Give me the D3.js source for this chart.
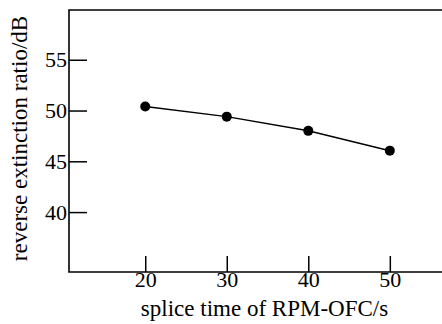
<!DOCTYPE html>
<html>
<head>
<meta charset="utf-8">
<script src="https://cdn.jsdelivr.net/npm/d3@7"></script>
<style>
  body { margin: 0; background: #fff; }
</style>
</head>
<body>
<div id="chart"></div>
<script>
// splice time (s) vs reverse extinction ratio (dB)
const spliceTime = [20, 30, 40, 50];
const extinction = [50.4, 49.4, 48.0, 46.05];
const xTicks = [20, 30, 40, 50];
const yTicks = [40, 45, 50, 55];

const W = 442, H = 324;
const margin = { top: 10, right: 0, bottom: 52, left: 69 };
const width = W - margin.left - margin.right,
      height = H - margin.top - margin.bottom;
const serif = "Liberation Serif";

const svg = d3.select("#chart").append("svg")
  .attr("width", W)
  .attr("height", H)
  .attr("font-family", serif);

const g = svg.append("g")
  .attr("transform", "translate(" + margin.left + "," + margin.top + ")");

const x = d3.scaleLinear().domain([10.65, 56.4]).range([0, width]);
const y = d3.scaleLinear().domain([34.1, 59.9]).range([height, 0]);

// frame: top, left, bottom (no right side)
g.append("path")
  .attr("d", "M" + width + ",0H0V" + height + "H" + width)
  .attr("fill", "none")
  .attr("stroke", "#000")
  .attr("stroke-width", 1.6);

// x axis, ticks pointing inward
const xAxis = g.append("g")
  .attr("transform", "translate(0," + height + ")")
  .call(d3.axisBottom(x).tickValues(xTicks).tickSize(-16).tickFormat(d3.format("d")))
  .attr("font-family", serif)
  .attr("font-size", 22);
xAxis.select(".domain").remove();
xAxis.selectAll("line").attr("stroke-width", 1.5);
xAxis.selectAll("text")
  .attr("y", 15).attr("dy", null)
  .attr("fill", "#000");

// y axis, ticks pointing inward
const yAxis = g.append("g")
  .call(d3.axisLeft(y).tickValues(yTicks).tickSize(-18).tickFormat(d3.format("d")))
  .attr("font-family", serif)
  .attr("font-size", 22);
yAxis.select(".domain").remove();
yAxis.selectAll("line").attr("stroke-width", 1.5);
yAxis.selectAll("text")
  .attr("x", -2)
  .attr("fill", "#000");

// axis titles
svg.append("text")
  .attr("x", 264.5)
  .attr("y", 316)
  .attr("text-anchor", "middle")
  .attr("font-size", 23)
  .text("splice time of RPM-OFC/s");

svg.append("text")
  .attr("transform", "translate(27,138.5) rotate(-90)")
  .attr("text-anchor", "middle")
  .attr("font-size", 23)
  .text("reverse extinction ratio/dB");

// line + markers
const pts = spliceTime.map((t, i) => ({ t: t, v: extinction[i] }));
g.append("path")
  .datum(pts)
  .attr("fill", "none")
  .attr("stroke", "#000")
  .attr("stroke-width", 1.5)
  .attr("d", d3.line().x(d => x(d.t)).y(d => y(d.v)));

g.selectAll(".dot")
  .data(pts)
  .enter().append("circle")
  .attr("class", "dot")
  .attr("cx", d => x(d.t))
  .attr("cy", d => y(d.v))
  .attr("r", 5)
  .attr("fill", "#000");
</script>
</body>
</html>
